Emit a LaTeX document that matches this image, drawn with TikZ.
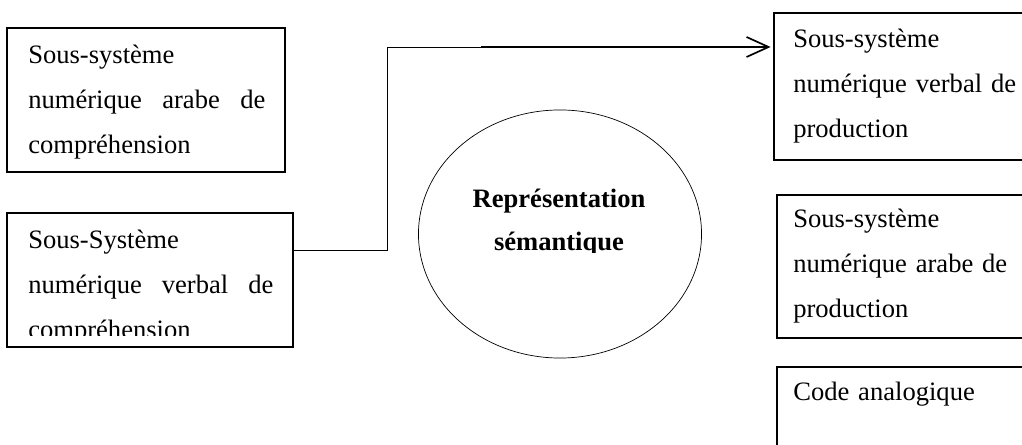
\documentclass[tikz,border=0pt]{standalone}
\usepackage{fontspec}
\setmainfont{Liberation Serif}
\usetikzlibrary{shapes.geometric,arrows.meta}
\tikzset{
  boite/.style={draw,line width=0.8pt,rectangle,inner sep=0pt},
  texte/.style={anchor=north west,inner sep=0pt,align=left,font=\fontsize{18.9}{32}\selectfont},
  bulle/.style={draw,line width=0.5pt,ellipse,inner sep=0pt}
}
\begin{document}
\begin{tikzpicture}[x=0.025cm,y=-0.025cm]
  \useasboundingbox (0,0) rectangle (1022,445);
  \clip (0,0) rectangle (1022,445);
        % cadres
        \node[boite,minimum width=6.95cm,minimum height=3.6cm] (b1) at (146,100) {};
        \node[boite,minimum width=7.15cm,minimum height=3.35cm] (b2) at (150,280) {};
        \node[boite,minimum width=6.65cm,minimum height=3.675cm] (b3) at (907,86.5) {};
        \node[boite,minimum width=6.575cm,minimum height=3.575cm] (b4) at (908.5,266.5) {};
        \node[boite,minimum width=6.575cm,minimum height=2.325cm] (b5) at (908.5,413.5) {};
        \node[bulle,minimum width=7.075cm,minimum height=6.2cm] (rs) at (560,234) {};
        % textes
        \node[texte,text width=5.925cm] (t1) at (28,31.4) {\strut Sous-système\\ \strut numérique\hfill arabe\hfill de\\ \strut compréhension};
        \begin{scope}
          \clip (0,0) rectangle (1022,336);
          \node[texte,text width=6.125cm] (t2) at (28,216.4) {\strut Sous-Système\\ \strut numérique\hfill verbal\hfill de\\ \strut compréhension};
        \end{scope}
        \node[texte,text width=6cm] (t3) at (793,15.4) {\strut Sous-système\\ \strut numérique verbal de\\ \strut production};
        \node[texte,text width=6cm] (t4) at (793,195.4) {\strut Sous-système\\ \strut numérique arabe de\\ \strut production};
        \node[texte,text width=6cm] (t5) at (793,368.4) {\strut Code analogique};
        \begin{scope}
          \clip (0,0) rectangle (1022,253);
          \node[texte,anchor=north,align=center,font=\fontsize{18.9}{30.5}\selectfont\bfseries] (trs) at (559,177) {\strut Représentation\\ \strut sémantique};
        \end{scope}
        % liaison
        \coordinate (sortie) at (b2.east |- 0,250);
        \coordinate (coude) at (481,47);
        \draw[line width=0.7pt] (sortie) -- ++(94,0) |- (coude);
        \draw[line width=1.6pt,-{Straight Barb[length=0.55cm,width=0.5cm,line width=1.2pt]}] (coude) -- ([xshift=-2]b3.west |- coude);
\end{tikzpicture}
\end{document}
